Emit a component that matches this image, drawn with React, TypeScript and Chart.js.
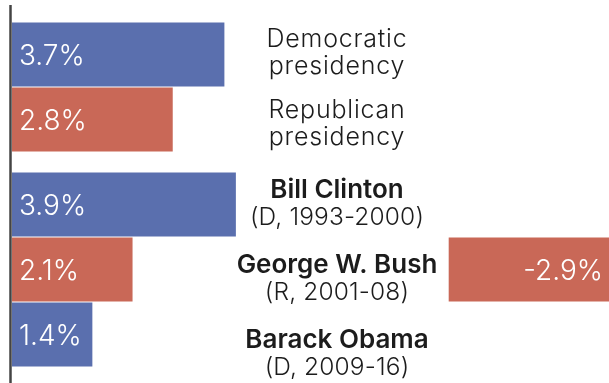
import React, { useEffect, useRef } from "react";
import { Chart, registerables } from "chart.js";
Chart.register(...registerables);

// ---- data ----
const summaryLabels = [["Democratic", "presidency"], ["Republican", "presidency"]];
const summaryValues = [3.7, 2.8];
const summaryParties = ["D", "R"];

const presidentNames = ["Bill Clinton", "George W. Bush", "Barack Obama"];
const presidentTerms = ["(D, 1993-2000)", "(R, 2001-08)", "(D, 2009-16)"];
const presidentValues = [3.9, 2.1, 1.4];
const presidentNegValues = [null, -2.9, null];
const presidentParties = ["D", "R", "D"];

const partyColors: Record<string, string> = { D: "#5a6fae", R: "#c96857" };

const FONT = "Inter, 'Open Sans', sans-serif";
const LABEL_X = 337;

const fmt = (v: number) => `${v.toFixed(1)}%`;

const axisLinePlugin = (top: number) => ({
  id: "axisLine",
  afterDatasetsDraw(chart: any) {
    const { ctx, chartArea, height } = chart;
    ctx.save();
    ctx.strokeStyle = "#444444";
    ctx.lineWidth = 2.5;
    ctx.beginPath();
    ctx.moveTo(chartArea.left - 1.5, top);
    ctx.lineTo(chartArea.left - 1.5, height);
    ctx.stroke();
    ctx.restore();
  },
});

const valueLabelPlugin = {
  id: "valueLabels",
  afterDatasetsDraw(chart: any) {
    const { ctx } = chart;
    ctx.save();
    ctx.fillStyle = "#ffffff";
    ctx.font = `300 28px ${FONT}`;
    ctx.textBaseline = "middle";
    chart.data.datasets.forEach((ds: any, di: number) => {
      const meta = chart.getDatasetMeta(di);
      meta.data.forEach((el: any, i: number) => {
        const v = ds.data[i];
        if (v === null || v === undefined) return;
        const { y, base } = el.getProps(["x", "y", "base"], true);
        if (v >= 0) {
          ctx.textAlign = "left";
          ctx.fillText(fmt(v), base + 7, y + 2);
        } else {
          ctx.textAlign = "right";
          ctx.fillText(fmt(v), base - 6, y + 2);
        }
      });
    });
    ctx.restore();
  },
};

type Line = { text: string; weight: number; size: number; spacing: number };

const textBlockPlugin = (lines: Line[][], offset: number, step: number) => ({
  id: "textBlocks",
  afterDatasetsDraw(chart: any) {
    const { ctx } = chart;
    const meta = chart.getDatasetMeta(0);
    const first = meta.data[0].y;
    ctx.save();
    ctx.fillStyle = "#1c1c1c";
    ctx.textAlign = "center";
    ctx.textBaseline = "middle";
    const lh = 27;
    lines.forEach((block, i) => {
      const cy = first + offset + i * step;
      const start = cy - ((block.length - 1) * lh) / 2;
      block.forEach((ln, j) => {
        ctx.font = `${ln.weight} ${ln.size}px ${FONT}`;
        (ctx as any).letterSpacing = `${ln.spacing}px`;
        ctx.fillText(ln.text, LABEL_X, start + j * lh);
      });
    });
    ctx.restore();
  },
});

function makeChart(
  canvas: HTMLCanvasElement,
  labels: string[],
  datasets: any[],
  padding: any,
  plugins: any[],
  withX2: boolean
) {
  const scales: any = {
    x: { type: "linear", min: 0, max: 10.4, display: false },
    y: { type: "category", display: false },
  };
  if (withX2) {
    scales.x2 = { type: "linear", min: -10.8, max: 0, display: false, position: "top" };
  }
  return new Chart(canvas, {
    type: "bar",
    data: { labels, datasets },
    options: {
      indexAxis: "y",
      responsive: false,
      animation: false,
      layout: { padding },
      scales,
      plugins: { legend: { display: false }, tooltip: { enabled: false } },
      datasets: { bar: { grouped: false } } as any,
    } as any,
    plugins,
  });
}

export default function App() {
  const topRef = useRef<HTMLCanvasElement>(null);
  const botRef = useRef<HTMLCanvasElement>(null);

  useEffect(() => {
    document.body.style.margin = "0";
    const top = makeChart(
      topRef.current!,
      summaryLabels.map((l) => l.join(" ")),
      [
        {
          data: summaryValues,
          backgroundColor: summaryParties.map((p) => partyColors[p]),
          barPercentage: 0.985,
          categoryPercentage: 1,
          xAxisID: "x",
        },
      ],
      { left: 12, right: 0, top: 22, bottom: 10 },
      [
        axisLinePlugin(5),
        valueLabelPlugin,
        textBlockPlugin(
          summaryLabels.map((l) => l.map((t) => ({ text: t, weight: 300, size: 25, spacing: 0.8 }))),
          -1.5,
          71
        ),
      ],
      false
    );
    const bot = makeChart(
      botRef.current!,
      presidentNames,
      [
        {
          data: presidentValues,
          backgroundColor: presidentParties.map((p) => partyColors[p]),
          barPercentage: 0.985,
          categoryPercentage: 1,
          xAxisID: "x",
        },
        {
          data: presidentNegValues,
          backgroundColor: presidentParties.map((p) => partyColors[p]),
          barPercentage: 0.985,
          categoryPercentage: 1,
          xAxisID: "x2",
        },
      ],
      { left: 12, right: 0, top: 10, bottom: 16 },
      [
        axisLinePlugin(0),
        valueLabelPlugin,
        textBlockPlugin(
          presidentNames.map((n, i) => [
            { text: n, weight: 600, size: 26, spacing: 0 },
            { text: presidentTerms[i], weight: 300, size: 24.5, spacing: 0.15 },
          ]),
          -0.5,
          75
        ),
      ],
      true
    );
    return () => {
      top.destroy();
      bot.destroy();
    };
  }, []);

  return (
    <div style={{ width: 609, height: 383, background: "#ffffff" }}>
      <canvas ref={topRef} width={609} height={162} style={{ display: "block" }} />
      <canvas ref={botRef} width={609} height={221} style={{ display: "block" }} />
    </div>
  );
}
